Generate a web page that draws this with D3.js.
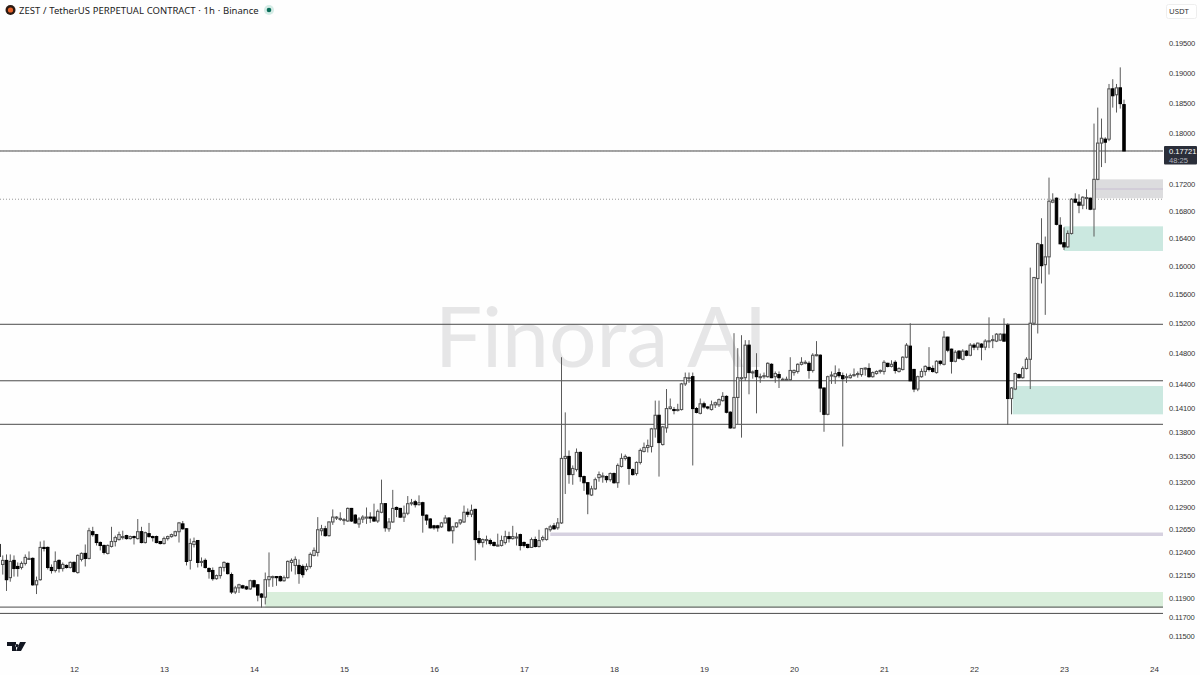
<!DOCTYPE html>
<html>
<head>
<meta charset="utf-8">
<script src="https://cdn.jsdelivr.net/npm/d3@7"></script>
<style>
  html, body { margin: 0; padding: 0; background: #fefefe; }
  svg { display: block; font-family: "Noto Sans", sans-serif; }
</style>
</head>
<body>
<div id="chart"></div>
<script>
// hourly bars as [open, high, low, close], in 0.00001 USDT
const bars11 = [
  [12482,12490,12317,12350],[12262,12361,12152,12306],[12306,12372,11976,12097],[12119,12372,12075,12295],
  [12306,12361,12130,12218],[12240,12284,12130,12218],[12229,12295,12207,12273],[12273,12372,12251,12339],
  [12317,12405,12317,12328],[12328,12340,12031,12042],[12042,12130,11943,12086],[12097,12515,12086,12449],
  [12449,12526,12405,12440],[12449,12460,12207,12229],[12229,12262,12163,12196],[12196,12405,12174,12295],
  [12306,12317,12174,12218],[12218,12284,12185,12262],[12251,12262,12218,12229],[12229,12295,12218,12284],
];
const bars12 = [
  [12284,12295,12174,12185],[12174,12372,12163,12361],[12317,12394,12295,12383],[12383,12482,12240,12328],
  [12328,12669,12317,12636],[12625,12680,12570,12592],[12592,12600,12471,12504],[12504,12515,12416,12471],
  [12471,12480,12372,12394],[12383,12482,12372,12471],[12460,12680,12449,12515],[12515,12581,12460,12559],
  [12537,12625,12526,12592],[12559,12636,12537,12570],[12581,12590,12537,12548],[12548,12581,12537,12570],
  [12570,12581,12482,12559],[12548,12768,12537,12625],[12625,12680,12495,12504],[12504,12625,12493,12614],
  [12603,12724,12560,12570],[12570,12581,12515,12565],[12570,12581,12495,12504],[12515,12520,12482,12493],
];
const bars13 = [
  [12493,12570,12482,12548],[12548,12581,12526,12570],[12570,12603,12559,12592],[12581,12636,12570,12625],
  [12625,12735,12504,12724],[12713,12746,12647,12658],[12658,12665,12251,12295],[12306,12548,12207,12493],
  [12482,12559,12449,12515],[12526,12530,12229,12284],[12284,12339,12240,12295],[12306,12328,12218,12229],
  [12218,12229,12108,12185],[12196,12229,12086,12108],[12108,12152,12097,12141],[12141,12240,12108,12229],
  [12229,12295,12185,12284],[12273,12284,12152,12163],[12152,12174,11943,11965],[11965,12031,11943,12009],
  [12009,12053,11954,12042],[12031,12042,11998,12009],[12020,12031,11987,11998],[11998,12097,11987,12086],
];
const bars14 = [
  [12086,12097,12015,12020],[12042,12050,11866,11932],[11943,11954,11800,11910],[11910,12174,11833,12097],
  [12097,12394,12020,12130],[12119,12141,12020,12130],[12130,12135,12031,12119],[12130,12141,12075,12086],
  [12086,12141,12075,12119],[12119,12306,12108,12295],[12284,12328,12185,12306],[12251,12350,12152,12317],
  [12251,12317,12053,12163],[12240,12262,12119,12152],[12207,12273,12185,12240],[12240,12394,12218,12372],
  [12361,12449,12350,12416],[12394,12790,12350,12647],[12636,12702,12581,12658],[12658,12691,12570,12581],
  [12581,12740,12570,12735],[12735,12878,12702,12790],[12779,12801,12757,12790],[12768,12845,12746,12775],
];
const bars15 = [
  [12757,12779,12702,12762],[12746,12900,12735,12889],[12889,12895,12735,12746],[12812,12823,12713,12724],
  [12713,12790,12669,12768],[12768,12812,12724,12790],[12779,12900,12713,12790],[12790,12845,12724,12779],
  [12790,12944,12735,12746],[12746,12878,12724,12856],[12845,13224,12834,12944],[12944,12950,12625,12669],
  [12658,12779,12625,12735],[12735,13104,12724,12889],[12900,12911,12790,12878],[12889,12895,12779,12790],
  [12790,12922,12735,12834],[12834,13032,12812,12944],[12944,12999,12922,12955],[12966,12988,12900,12933],
  [12933,13040,12922,12955],[12955,12966,12614,12812],[12812,12820,12702,12757],[12768,12779,12660,12669],
];
const bars16 = [
  [12691,12702,12647,12669],[12691,12702,12625,12669],[12680,12735,12669,12724],[12724,12812,12720,12779],
  [12779,12790,12625,12636],[12636,12691,12493,12680],[12680,12730,12669,12724],[12724,12768,12702,12757],
  [12735,12922,12724,12845],[12845,12889,12790,12823],[12823,12933,12790,12867],[12878,12885,12306,12537],
  [12548,12636,12482,12504],[12504,12548,12449,12537],[12526,12581,12482,12537],[12526,12548,12471,12493],
  [12504,12515,12460,12471],[12471,12603,12460,12475],[12471,12581,12460,12526],[12504,12636,12482,12570],
  [12570,12625,12504,12548],[12548,12691,12537,12570],[12559,12614,12471,12565],[12592,12603,12416,12471],
];
const bars17 = [
  [12504,12515,12449,12471],[12482,12490,12438,12449],[12449,12559,12445,12537],[12537,12570,12449,12460],
  [12460,12647,12449,12526],[12537,12581,12515,12559],[12537,12669,12526,12658],[12647,12702,12625,12680],
  [12691,12724,12647,12658],[12669,12779,12647,12724],[12724,14747,12713,13476],[13476,14040,13056,13500],
  [13500,13572,13176,13284],[13284,13392,13164,13356],[13344,13596,13320,13548],[13548,13560,13200,13260],
  [13260,13272,13092,13188],[13188,13195,12823,13056],[13044,13152,13032,13116],[13116,13248,13104,13224],
  [13248,13320,13200,13284],[13260,13308,13188,13268],[13260,13272,13188,13224],[13224,13308,13200,13296],
];
const bars18 = [
  [13296,13308,13176,13188],[13188,13416,13128,13392],[13380,13536,13368,13476],[13476,13524,13452,13500],
  [13488,13500,13164,13356],[13344,13356,13272,13284],[13296,13440,13272,13428],[13428,13596,13404,13572],
  [13560,13668,13548,13608],[13608,13704,13548,13632],[13620,13848,13548,13836],[13836,14188,13728,14004],
  [14004,14188,13260,13668],[13644,13872,13632,13860],[13848,14335,13788,14088],[14088,14215,14076,14108],
  [14076,14108,14016,14070],[14070,14148,14052,14076],[14076,14414,14064,14401],[14401,14547,14374,14481],
  [14468,14547,14414,14481],[14494,14547,13392,14088],[14088,14108,14028,14040],[14028,14215,14016,14148],
];
const bars19 = [
  [14148,14175,14088,14108],[14108,14121,14076,14095],[14076,14188,14064,14135],[14135,14175,14095,14161],
  [14135,14215,14108,14201],[14188,14295,14175,14241],[14241,14255,14028,14042],[14042,14055,13836,13848],
  [13848,15066,13836,14228],[14228,14867,13896,14481],[14468,15039,13728,14481],[14481,14973,14441,14906],
  [14906,14973,14268,14547],[14547,14574,14468,14555],[14574,14800,14028,14494],[14481,14534,14414,14494],
  [14494,14547,14468,14507],[14494,14680,14481,14667],[14654,14667,14475,14481],[14494,14561,14414,14534],
  [14521,14561,14348,14481],[14454,14481,14441,14460],[14454,14494,14441,14460],[14454,14747,14441,14574],
];
const bars20 = [
  [14547,14587,14507,14574],[14561,14667,14534,14654],[14654,14747,14640,14680],[14667,14707,14654,14680],
  [14667,14694,14468,14574],[14574,14800,14547,14773],[14773,14960,14760,14780],[14773,14785,14042,14348],
  [14348,14355,13800,14016],[14016,14507,14004,14494],[14507,14561,14401,14515],[14494,14640,14401,14534],
  [14547,14600,14481,14507],[14507,14547,13620,14468],[14481,14534,14414,14494],[14481,14534,14468,14507],
  [14507,14600,14494,14521],[14521,14561,14481,14534],[14521,14605,14494,14600],[14600,14614,14507,14605],
  [14600,14667,14481,14494],[14494,14561,14481,14547],[14534,14574,14521,14561],[14561,14587,14534,14574],
];
const bars21 = [
  [14561,14707,14521,14680],[14667,14675,14614,14627],[14627,14707,14614,14654],[14680,14707,14534,14574],
  [14561,14614,14547,14600],[14587,14760,14574,14747],[14747,14933,14734,14906],[14893,15200,14435,14441],
  [14587,14595,14295,14335],[14335,14507,14308,14494],[14494,14600,14481,14561],[14561,14640,14507,14627],
  [14614,14880,14561,14587],[14600,14640,14547,14561],[14547,14707,14534,14694],[14694,14707,14640,14667],
  [14654,15093,14640,15013],[15013,15020,14813,14840],[14853,14860,14534,14694],[14694,14840,14680,14813],
  [14827,14840,14720,14734],[14720,14853,14707,14827],[14827,14840,14760,14773],[14773,14933,14760,14906],
];
const bars22 = [
  [14906,14933,14840,14880],[14880,14940,14840,14933],[14920,14933,14707,14880],[14880,14986,14840,14960],
  [14960,15280,14867,14965],[14973,15039,14867,14980],[14960,15066,14947,15053],[14973,15066,14960,15053],
  [15053,15267,14955,14960],[15173,15200,13884,14215],[14215,14361,14016,14348],[14335,14547,14321,14534],
  [14521,14534,14468,14481],[14481,14627,14468,14600],[14600,14747,14587,14720],[14720,15972,14335,15200],
  [15200,15840,15173,15832],[15818,16330,15062,16316],[16300,16690,15748,16000],[16014,16420,15314,16126],
  [16126,17305,15874,16945],[16930,17065,16915,16960],[16990,17000,16585,16600],[16585,16705,16305,16315],
];
const bars23 = [
  [16330,16555,16225,16270],[16270,16510,16255,16465],[16465,16990,16450,16975],[16975,17065,16915,16930],
  [16930,17050,16765,16885],[16885,17020,16825,17005],[16990,17125,16825,17000],[16990,17000,16810,16825],
  [16825,18158,16420,17278],[17278,18418,17265,17845],[17845,18239,17468,17922],[17907,17938,17530,17860],
  [17907,18810,17876,18728],[18728,18890,18418,18614],[18630,18810,18337,18745],[18745,19090,18402,18484],
  [18467,18549,17715,17721],
];

const priceTicks = [0.195, 0.19, 0.185, 0.18, 0.172, 0.168, 0.164, 0.16, 0.156, 0.152, 0.148, 0.144, 0.141,
  0.138, 0.135, 0.132, 0.129, 0.1265, 0.124, 0.1215, 0.119, 0.117, 0.115];
const solidLevels = [0.1772, 0.15186, 0.14441, 0.13892, 0.11805, 0.11739];
const dottedLevels = [0.1772, 0.16975];
// [first bar index, top, bottom]
const grayZone = [291.5, 0.17278, 0.1699];
const tealZones = [[284, 0.1657, 0.1621], [270.3, 0.14374, 0.14016]];
const greenZone = [71, 0.11965, 0.118];
const purpleLine = [147, 0.12597];
const grayMidLine = [291.5, 0.1713];
const countdown = "48:25";
const titleText = "ZEST / TetherUS PERPETUAL CONTRACT · 1h · Binance";

const width = 1200,
  height = 675,
  plotRight = 1163;

const bars = [bars11, bars12, bars13, bars14, bars15, bars16, bars17, bars18, bars19, bars20, bars21, bars22, bars23]
  .flat()
  .map((d) => d.map((v) => v / 100000));

const firstBar = Date.UTC(2025, 0, 11, 4);
const barTime = (i) => new Date(firstBar + i * 3600000);

const x = d3.scaleUtc()
  .domain([Date.UTC(2025, 0, 12), Date.UTC(2025, 0, 24)])
  .range([74, 1154]);
const y = d3.scaleLog().domain([0.115, 0.195]).range([636.5, 43.5]);

const svg = d3.select("#chart").append("svg").attr("width", width).attr("height", height);

svg.append("clipPath").attr("id", "plot")
  .append("rect").attr("x", 0).attr("y", 0).attr("width", plotRight).attr("height", 640);

// watermark sits under everything
svg.append("text")
  .attr("x", 601).attr("y", 367)
  .attr("text-anchor", "middle")
  .style("font-family", "Lato, sans-serif")
  .style("font-weight", 400)
  .style("font-size", "84px")
  .style("fill", "#e6e6e7")
  .text("Finora AI");

const chartG = svg.append("g").attr("clip-path", "url(#plot)");

const zone = (z, color) =>
  chartG.append("rect")
    .attr("x", x(barTime(z[0])))
    .attr("y", y(z[1]))
    .attr("width", plotRight - x(barTime(z[0])))
    .attr("height", y(z[2]) - y(z[1]))
    .style("fill", color);

zone(greenZone, "#d9eedb");
tealZones.forEach((z) => zone(z, "#cbe8e0"));
zone(grayZone, "#dcdcde");

chartG.append("line")
  .attr("x1", x(barTime(grayMidLine[0]))).attr("x2", plotRight)
  .attr("y1", y(grayMidLine[1])).attr("y2", y(grayMidLine[1]))
  .style("stroke", "#cfc9d6").style("stroke-width", 1.5);

chartG.append("line")
  .attr("x1", x(barTime(purpleLine[0]))).attr("x2", plotRight)
  .attr("y1", y(purpleLine[1])).attr("y2", y(purpleLine[1]))
  .style("stroke", "#d6d1e0").style("stroke-width", 3.5);

chartG.selectAll(".level").data(solidLevels).join("line")
  .attr("class", "level")
  .attr("x1", 0).attr("x2", plotRight)
  .attr("y1", (d) => y(d)).attr("y2", (d) => y(d))
  .style("stroke", "#4a4a4a").style("stroke-width", 1);

chartG.selectAll(".dotted").data(dottedLevels).join("line")
  .attr("class", "dotted")
  .attr("x1", 0).attr("x2", plotRight)
  .attr("y1", (d) => y(d)).attr("y2", (d) => y(d))
  .style("stroke", "#999").style("stroke-width", 1).style("stroke-dasharray", "1,2");

const candle = chartG.selectAll(".candle").data(bars).join("g")
  .attr("class", "candle")
  .attr("transform", (_d, i) => `translate(${x(barTime(i))},0)`);

candle.append("line")
  .attr("y1", (d) => y(d[1]))
  .attr("y2", (d) => y(d[2]))
  .style("stroke", "#5a5a5a")
  .style("stroke-width", 1);

candle.append("rect")
  .attr("x", -1.2)
  .attr("width", 2.4)
  .attr("y", (d) => y(Math.max(d[0], d[3])))
  .attr("height", (d) => Math.max(1, Math.abs(y(d[0]) - y(d[3]))))
  .style("fill", (d) => (d[3] >= d[0] ? "#ffffff" : "#000000"))
  .style("stroke", (d) => (d[3] >= d[0] ? "#555" : "#000"))
  .style("stroke-width", 1.1);

// axes
const yAxis = svg.append("g")
  .attr("transform", `translate(${plotRight},0)`)
  .call(d3.axisRight(y).tickValues(priceTicks).tickSize(0).tickPadding(6).tickFormat((d) => d.toFixed(5)));
yAxis.select(".domain").remove();
yAxis.selectAll("text").style("font-size", "7.6px").style("letter-spacing", "-0.2px").style("fill", "#333");

const xAxis = svg.append("g")
  .attr("transform", "translate(0,663)")
  .call(d3.axisBottom(x).ticks(d3.utcDay.every(1)).tickSize(0).tickPadding(3).tickFormat(d3.utcFormat("%-d")));
xAxis.select(".domain").remove();
xAxis.selectAll("text").style("font-size", "8px").style("fill", "#333");

// current price tag
const lastClose = bars[bars.length - 1][3];
const tagY = y(lastClose);
svg.append("rect")
  .attr("x", 1164).attr("y", tagY - 5).attr("width", 33).attr("height", 18.5).attr("rx", 1)
  .style("fill", "#2a2e39");
svg.append("text")
  .attr("x", 1169).attr("y", tagY + 3)
  .style("font-family", "Liberation Sans, sans-serif")
  .style("font-size", "7.6px").style("fill", "#fff")
  .text(lastClose.toFixed(5));
svg.append("text")
  .attr("x", 1169).attr("y", tagY + 12)
  .style("font-family", "Liberation Sans, sans-serif")
  .style("font-size", "7.6px").style("fill", "#b2b5be")
  .text(countdown);

// currency button
svg.append("rect")
  .attr("x", 1166.5).attr("y", 4.5).attr("width", 30).attr("height", 14).attr("rx", 2)
  .style("fill", "#fff").style("stroke", "#eee");
svg.append("text")
  .attr("x", 1169).attr("y", 13.5)
  .style("font-size", "7.8px").style("fill", "#333")
  .text("USDT");

// title row
svg.append("circle").attr("cx", 10.5).attr("cy", 10).attr("r", 5).style("fill", "#2b1a12");
svg.append("circle").attr("cx", 10.5).attr("cy", 10).attr("r", 2.6).style("fill", "#e8622a");
svg.append("text")
  .attr("x", 19).attr("y", 13.5)
  .style("font-size", "9.5px").style("word-spacing", "0.3px").style("fill", "#222")
  .text(titleText);
svg.append("circle").attr("cx", 269).attr("cy", 10).attr("r", 5).style("fill", "#d5ece6");
svg.append("circle").attr("cx", 269).attr("cy", 10).attr("r", 2.3).style("fill", "#0b6e5a");

// TradingView mark
svg.append("path")
  .attr("d", "M7 642h9v9h-4v-5h-5z M20 642h6l-5 9h-5z M17 644a1.6 1.6 0 1 0 0.01 0z")
  .style("fill", "#131722");
</script>
</body>
</html>
